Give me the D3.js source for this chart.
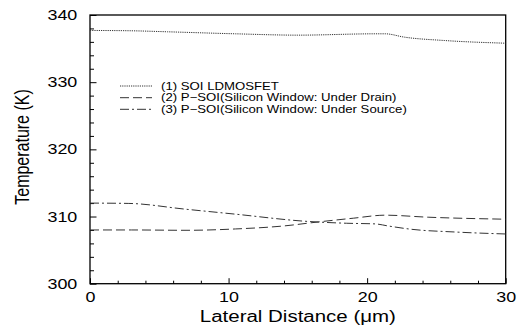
<!DOCTYPE html>
<html>
<head>
<meta charset="utf-8">
<script src="https://cdn.jsdelivr.net/npm/d3@7/dist/d3.min.js"></script>
<style>
  html, body { margin: 0; padding: 0; background: #fff; }
  svg { display: block; }
  text { font-family: "Liberation Sans", Arial, Helvetica, sans-serif; fill: #000; }
</style>
</head>
<body>
<svg id="chart" width="527" height="329"></svg>
<script>
// ---- data ----
const xMajorTicks = [0, 10, 20, 30];
const yMajorTicks = [300, 310, 320, 330, 340];

const s1X = [0, 3, 5.6, 10.5, 15, 20.6, 21.3, 22.7, 25.6, 30];
const s1Y = [337.7, 337.65, 337.5, 337.2, 337.0, 337.2, 337.2, 336.7, 336.2, 335.8];

const s2X = [0, 3, 7, 10.5, 14, 16.5, 19, 21.3, 24.4, 30];
const s2Y = [308.0, 308.0, 307.95, 308.15, 308.6, 309.2, 309.75, 310.2, 309.9, 309.6];

const s3X = [0, 2.8, 6.85, 10.5, 15.5, 18.5, 20.6, 21.5, 23.2, 26.3, 30];
const s3Y = [312.0, 311.95, 311.1, 310.35, 309.3, 309.0, 308.9, 308.6, 308.1, 307.7, 307.4];

const seriesNames = [
  "(1) SOI LDMOSFET",
  "(2) P\u2212SOI(Silicon Window: Under Drain)",
  "(3) P\u2212SOI(Silicon Window: Under Source)"
];
const xLabel = "Lateral Distance (\u03bcm)";
const yLabel = "Temperature (K)";

// ---- layout ----
const SX = 1.28; // horizontal stretch of glyphs in the reference
const plot = { left: 90, right: 505.7, top: 15, bottom: 283.7 };
const svg = d3.select("#chart");

const x = d3.scaleLinear().domain([0, 30]).range([plot.left, plot.right]);
const y = d3.scaleLinear().domain([300, 340]).range([plot.bottom, plot.top]);

const minorX = d3.range(0, 31, 2).filter(v => !xMajorTicks.includes(v));
const minorY = d3.range(300, 341, 2).filter(v => !yMajorTicks.includes(v));

// minor ticks
svg.append("g").attr("transform", `translate(0,${plot.bottom})`)
  .call(d3.axisBottom(x).tickValues(minorX).tickSizeInner(-3).tickSizeOuter(0).tickFormat(""))
  .call(g => g.select(".domain").remove())
  .call(g => g.selectAll("line").attr("stroke", "#000").attr("stroke-width", 1));
svg.append("g").attr("transform", `translate(${plot.left},0)`)
  .call(d3.axisLeft(y).tickValues(minorY).tickSizeInner(-4).tickSizeOuter(0).tickFormat(""))
  .call(g => g.select(".domain").remove())
  .call(g => g.selectAll("line").attr("stroke", "#000").attr("stroke-width", 1));

// major ticks + labels
svg.append("g").attr("transform", `translate(0,${plot.bottom})`)
  .call(d3.axisBottom(x).tickValues(xMajorTicks).tickSizeInner(-5.5).tickSizeOuter(0).tickPadding(8))
  .call(g => g.select(".domain").remove())
  .call(g => g.selectAll("line").attr("stroke", "#000").attr("stroke-width", 1))
  .call(g => g.selectAll("text")
    .attr("font-size", 14).attr("fill", "#000")
    .attr("font-family", "Liberation Sans, Arial, sans-serif")
    .attr("transform", `scale(${SX},1)`));

svg.append("g").attr("transform", `translate(${plot.left},0)`)
  .call(d3.axisLeft(y).tickValues(yMajorTicks).tickSizeInner(-6.5).tickSizeOuter(0).tickPadding(12.7))
  .call(g => g.select(".domain").remove())
  .call(g => g.selectAll("line").attr("stroke", "#000").attr("stroke-width", 1))
  .call(g => g.selectAll("text")
    .attr("font-size", 14).attr("fill", "#000")
    .attr("font-family", "Liberation Sans, Arial, sans-serif")
    .attr("x", -12.7 / SX)
    .attr("transform", `scale(${SX},1)`));

// frame
svg.append("rect")
  .attr("x", plot.left).attr("y", plot.top)
  .attr("width", plot.right - plot.left).attr("height", plot.bottom - plot.top)
  .attr("fill", "none").attr("stroke", "#000").attr("stroke-width", 1.3);

// series
const styles = [
  { dash: "1.2,1", color: "#333", width: 1 },
  { dash: "9,4", color: "#333", width: 1 },
  { dash: "9,3,2,3", color: "#333", width: 1 }
];
const allSeries = [
  d3.zip(s1X, s1Y),
  d3.zip(s2X, s2Y),
  d3.zip(s3X, s3Y)
];
const line = d3.line().x(d => x(d[0])).y(d => y(d[1])).curve(d3.curveMonotoneX);

allSeries.forEach((pts, i) => {
  svg.append("path")
    .datum(pts)
    .attr("d", line)
    .attr("fill", "none")
    .attr("stroke", styles[i].color)
    .attr("stroke-width", styles[i].width)
    .attr("stroke-dasharray", styles[i].dash);
});

// legend
const legendRowsY = [86, 97.7, 109.3];
seriesNames.forEach((name, i) => {
  const ly = legendRowsY[i];
  svg.append("line")
    .attr("x1", 120).attr("x2", 152).attr("y1", ly).attr("y2", ly)
    .attr("stroke", styles[i].color).attr("stroke-width", styles[i].width)
    .attr("stroke-dasharray", styles[i].dash);
  svg.append("text")
    .attr("transform", `translate(161,${ly + 3.7}) scale(${SX},1)`)
    .attr("font-size", 10.3)
    .text(name);
});

// axis titles
svg.append("text")
  .attr("transform", `translate(${(plot.left + plot.right) / 2},322.3) scale(${SX},1)`)
  .attr("text-anchor", "middle")
  .attr("font-size", 16)
  .text(xLabel);

svg.append("text")
  .attr("transform", `translate(29,147) scale(${SX},1) rotate(-90)`)
  .attr("text-anchor", "middle")
  .attr("font-size", 16)
  .text(yLabel);
</script>
</body>
</html>
